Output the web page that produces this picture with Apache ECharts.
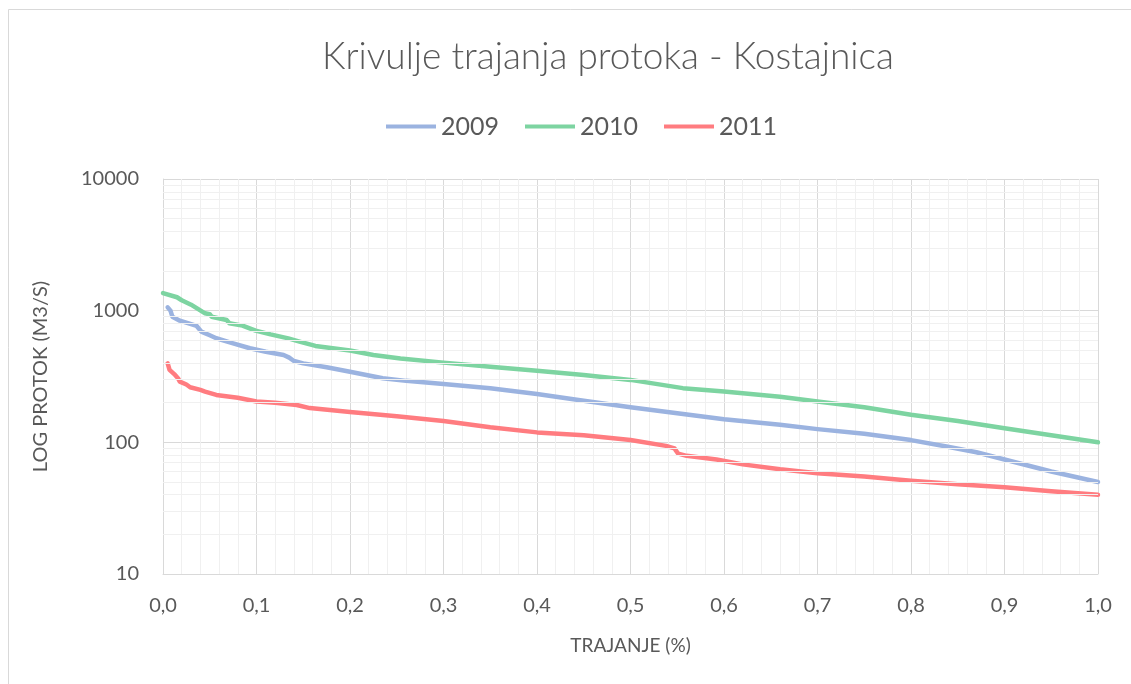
<!DOCTYPE html>
<html>
<head>
<meta charset="utf-8">
<script src="https://cdn.jsdelivr.net/npm/echarts@6/dist/echarts.min.js"></script>
<style>
  html, body { margin: 0; padding: 0; background: #ffffff; }
  #chart { width: 1131px; height: 684px; }
</style>
</head>
<body>
<div id="chart"></div>
<script>
// Flow duration curves, Kostajnica (duration share vs. discharge, log scale)
const seriesNames = ['2009', '2010', '2011'];
const seriesColors = ['#9BB3E0', '#7DD4A1', '#FF7C80'];

const t2009 = [0.005, 0.008, 0.010, 0.018, 0.030, 0.036, 0.041, 0.050, 0.057, 0.075, 0.093, 0.110, 0.129, 0.135, 0.140, 0.150, 0.175, 0.200, 0.235, 0.260, 0.300, 0.350, 0.400, 0.450, 0.500, 0.550, 0.600, 0.660, 0.700, 0.750, 0.800, 0.838, 0.870, 0.900, 0.950, 1.000];
const q2009 = [1060, 1000, 900, 840, 790, 765, 693, 650, 617, 565, 518, 488, 461, 440, 415, 398, 372, 344, 307, 293, 277, 257, 233, 207, 185, 166, 150, 136, 126, 116, 104, 93, 84, 74, 60, 50];

const t2010 = [0.000, 0.015, 0.020, 0.030, 0.045, 0.050, 0.052, 0.068, 0.071, 0.085, 0.099, 0.115, 0.134, 0.146, 0.163, 0.200, 0.225, 0.254, 0.300, 0.350, 0.400, 0.450, 0.500, 0.556, 0.600, 0.660, 0.700, 0.750, 0.800, 0.850, 0.900, 0.950, 1.000];
const q2010 = [1360, 1264, 1200, 1110, 955, 940, 900, 850, 802, 770, 705, 660, 616, 582, 540, 498, 460, 434, 403, 375, 350, 325, 298, 258, 243, 222, 204, 185, 162, 145, 128, 113, 100];

const t2011 = [0.005, 0.007, 0.012, 0.016, 0.018, 0.025, 0.029, 0.040, 0.045, 0.057, 0.080, 0.100, 0.120, 0.143, 0.157, 0.200, 0.250, 0.300, 0.350, 0.400, 0.450, 0.500, 0.538, 0.547, 0.551, 0.560, 0.592, 0.620, 0.660, 0.700, 0.750, 0.800, 0.850, 0.900, 0.950, 1.000];
const q2011 = [398, 355, 330, 307, 289, 275, 262, 250, 243, 229, 218, 204, 200, 192, 182, 170, 158, 145, 130, 119, 113, 104, 94, 90, 82, 79, 74, 68, 62.5, 58.3, 55, 51, 48, 45.6, 42.5, 40];

const yDecades = [10, 100, 1000, 10000];

const durations = [t2009, t2010, t2011];
const flows = [q2009, q2010, q2011];

// log-scale minor gridlines at 2..9 × each decade
const minorY = [];
for (let d = 0; d < yDecades.length - 1; d++) {
  for (let m = 2; m <= 9; m++) minorY.push({ yAxis: yDecades[d] * m });
}

const font = 'Lato, "Open Sans", sans-serif';
const textColor = '#595959';

const chart = echarts.init(document.getElementById('chart'), null, { renderer: 'canvas' });

const lineSeries = seriesNames.map((name, i) => ({
  name: name,
  type: 'line',
  data: durations[i].map((t, k) => [t, flows[i][k]]),
  showSymbol: false,
  symbol: 'none',
  z: 3,
  lineStyle: { color: seriesColors[i], width: 4.5, cap: 'round', join: 'round' },
  itemStyle: { color: seriesColors[i] },
  emphasis: { disabled: true },
  animation: false
}));

chart.setOption({
  animation: false,
  backgroundColor: '#ffffff',
  graphic: [{
    type: 'rect',
    shape: { x: 8.5, y: 9.5, width: 1300, height: 900 },
    style: { fill: 'none', stroke: '#d9d9d9', lineWidth: 1 },
    silent: true,
    z: -1
  }],
  title: {
    text: 'Krivulje trajanja protoka - Kostajnica',
    left: 317,
    top: 34,
    textStyle: { fontFamily: font, fontSize: 37, fontWeight: 300, color: textColor }
  },
  legend: {
    data: seriesNames,
    top: 109,
    left: 381,
    icon: 'rect',
    itemWidth: 50,
    itemHeight: 4,
    itemGap: 26,
    textStyle: { fontFamily: font, fontSize: 25, color: textColor },
    selectedMode: false
  },
  grid: { left: 163, right: 33, top: 179, bottom: 110, containLabel: false },
  xAxis: {
    type: 'value',
    min: 0,
    max: 1,
    interval: 0.1,
    name: 'TRAJANJE (%)',
    nameLocation: 'middle',
    nameGap: 62,
    nameTextStyle: { fontFamily: font, fontSize: 19, color: textColor },
    axisLine: { show: true, lineStyle: { color: '#d9d9d9', width: 1 } },
    axisTick: { show: false },
    axisLabel: {
      margin: 22,
      fontFamily: font, fontSize: 20, color: textColor,
      formatter: v => v.toFixed(1).replace('.', ',')
    },
    splitLine: { show: true, lineStyle: { color: '#d9d9d9', width: 1 } },
    minorTick: { show: false, splitNumber: 5 },
    minorSplitLine: { show: true, lineStyle: { color: '#f0f0f0', width: 1 } }
  },
  yAxis: {
    type: 'log',
    logBase: 10,
    min: 10,
    max: 10000,
    name: 'LOG PROTOK (M3/S)',
    nameLocation: 'middle',
    nameRotate: 90,
    nameGap: 112,
    nameTextStyle: { fontFamily: font, fontSize: 20, color: textColor },
    axisLine: { show: true, lineStyle: { color: '#d9d9d9', width: 1 } },
    axisTick: { show: false },
    axisLabel: { margin: 24, fontFamily: font, fontSize: 20, color: textColor, formatter: v => String(Math.round(v)) },
    splitLine: { show: true, lineStyle: { color: '#d9d9d9', width: 1 } }
  },
  series: [{
    name: 'minor-grid',
    type: 'line',
    data: [],
    z: 1,
    silent: true,
    markLine: {
      silent: true,
      symbol: ['none', 'none'],
      label: { show: false },
      lineStyle: { color: '#f0f0f0', type: 'solid', width: 1 },
      emphasis: { disabled: true },
      animation: false,
      data: minorY
    }
  }].concat(lineSeries)
});
</script>
</body>
</html>
